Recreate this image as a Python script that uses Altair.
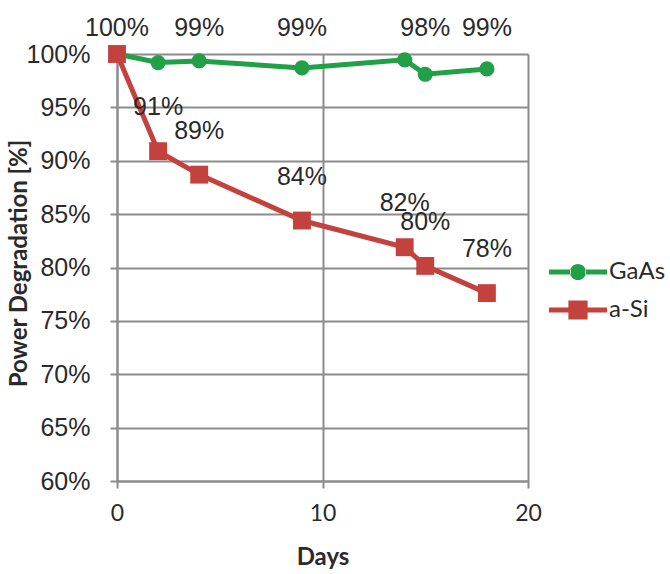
import altair as alt
import pandas as pd

# Measurement days and relative power output (%) of the two module types
days = [0, 2, 4, 9, 14, 15, 18]
gaas_power = [100.0, 99.2, 99.35, 98.7, 99.45, 98.1, 98.6]
asi_power = [100.0, 90.9, 88.7, 84.4, 81.9, 80.15, 77.6]

# Which points carry a value label
gaas_labeled = [True, False, True, True, False, True, True]
asi_labeled = [False, True, True, True, True, True, True]

series_names = ["GaAs", "a-Si"]
series_colors = ["#22A047", "#C3423E"]

y_ticks = [60, 65, 70, 75, 80, 85, 90, 95, 100]
x_ticks = [0, 10, 20]

rows = []
for name, values, flags in (
    ("GaAs", gaas_power, gaas_labeled),
    ("a-Si", asi_power, asi_labeled),
):
    for d, v, f in zip(days, values, flags):
        rows.append({"day": d, "power": v, "series": name, "labeled": f})
df = pd.DataFrame(rows)

GRID = "#8c8c8c"
TEXT = "#2a2a2a"

x_enc = alt.X(
    "day:Q",
    scale=alt.Scale(domain=[0, 20], nice=False),
    axis=alt.Axis(
        values=x_ticks,
        title="Days",
        labelFont="Lato",
        labelFontSize=23,
        labelPadding=14,
        labelFlush=False,
        titleFont="Lato",
        titleFontSize=24,
        titleFontWeight="bold",
        titleY=76,
        titleBaseline="middle",
    ),
)
y_enc = alt.Y(
    "power:Q",
    scale=alt.Scale(domain=[60, 100], nice=False, zero=False),
    axis=alt.Axis(
        values=y_ticks,
        labelExpr="datum.value + '%'",
        title="Power Degradation [%]",
        labelFont="Liberation Sans",
        labelFontSize=25,
        labelPadding=20,
        labelFlush=False,
        titleFont="Lato",
        titleFontSize=24,
        titleFontWeight="bold",
        titleX=-98,
        titleY=209,
        titleBaseline="middle",
        titleAlign="center",
    ),
)

base = alt.Chart(df)

lines = base.mark_line(strokeWidth=5).encode(
    x=x_enc,
    y=y_enc,
    color=alt.Color("series:N", scale=alt.Scale(domain=series_names, range=series_colors), legend=None),
)

circles = (
    base.transform_filter("datum.series === 'GaAs'")
    .mark_point(shape="circle", filled=True, size=230, opacity=1, color=series_colors[0])
    .encode(x=x_enc, y=y_enc)
)
squares = (
    base.transform_filter("datum.series === 'a-Si'")
    .mark_point(shape="square", filled=True, size=320, opacity=1, color=series_colors[1])
    .encode(x=x_enc, y=y_enc)
)

label_calc = "format(datum.power, '.0f') + '%'"

# GaAs values sit in one row above the plot frame
gaas_text = (
    base.transform_filter("datum.series === 'GaAs' && datum.labeled")
    .transform_calculate(label=label_calc)
    .mark_text(font="Liberation Sans", fontSize=25, color=TEXT, baseline="middle")
    .encode(x=x_enc, y=alt.value(-26), text="label:N")
)
# a-Si values float above their markers
asi_text = (
    base.transform_filter("datum.series === 'a-Si' && datum.labeled")
    .transform_calculate(label=label_calc)
    .mark_text(font="Liberation Sans", fontSize=25, color=TEXT, baseline="middle", dy=-44)
    .encode(x=x_enc, y=y_enc, text="label:N")
)

# Legend symbols: line stubs on both sides of the series marker (filled shapes)
circle_path = (
    "M-2.42,-0.2H-0.6V0.2H-2.42Z"
    "M0.6,-0.2H2.42V0.2H0.6Z"
    "M-0.67,0A0.67,0.67,0,1,0,0.67,0A0.67,0.67,0,1,0,-0.67,0Z"
)
square_path = (
    "M-2.42,-0.2H-0.8V0.2H-2.42Z"
    "M0.8,-0.2H2.42V0.2H0.8Z"
    "M-0.8,-0.8H0.8V0.8H-0.8Z"
)
legend_paths = [circle_path, square_path]
legend_rows_y = [206, 244]


def legend_entry(i):
    """Invisible layer carrying a one-entry legend for series i."""
    name = series_names[i]
    return (
        base.transform_filter(alt.datum.series == name)
        .mark_point(filled=True, opacity=0)
        .encode(
            x=x_enc,
            y=y_enc,
            fill=alt.Fill(
                "series:N",
                scale=alt.Scale(domain=[name], range=[series_colors[i]]),
                legend=alt.Legend(
                    title=None,
                    orient="none",
                    legendX=449,
                    legendY=legend_rows_y[i],
                    symbolType=legend_paths[i],
                    symbolSize=576,
                    symbolStrokeWidth=0,
                    labelFont="Lato",
                    labelFontSize=24,
                    labelColor=TEXT,
                    labelOffset=19,
                ),
            ),
        )
    )


chart = (
    alt.layer(lines, circles, squares, gaas_text, asi_text, legend_entry(0), legend_entry(1))
    .resolve_scale(fill="independent")
    .resolve_legend(fill="independent")
    .properties(
        width=411,
        height=427,
        autosize=alt.AutoSizeParams(type="none"),
        padding={"left": 117, "top": 54, "right": 142, "bottom": 93},
        background="white",
    )
    .configure_view(stroke=None)
    .configure_axis(
        gridColor=GRID,
        gridWidth=2,
        gridOpacity=1,
        domainColor=GRID,
        domainWidth=2,
        tickColor=GRID,
        tickWidth=2,
        tickSize=7,
        labelColor=TEXT,
        titleColor=TEXT,
    )
)

chart.save("out.html", embed_options={"renderer": "svg", "actions": False})
